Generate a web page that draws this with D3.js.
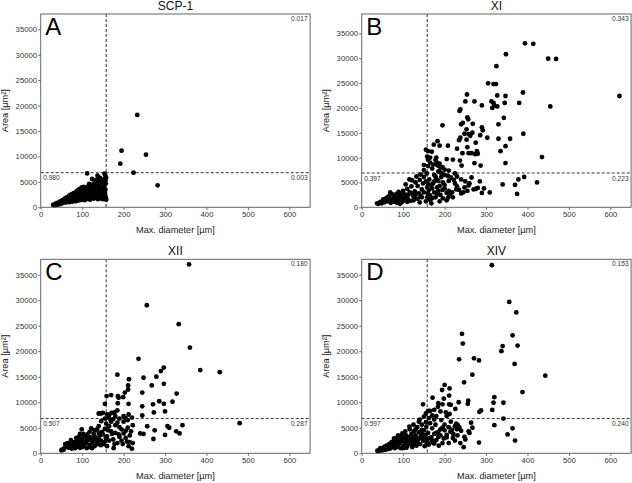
<!DOCTYPE html>
<html><head><meta charset="utf-8">
<script src="https://cdn.jsdelivr.net/npm/d3@7"></script>
<style>body{margin:0;background:#fff}svg{display:block}</style>
</head><body>
<svg id="c" width="632" height="483"></svg>
<script>
// ---------------- DATA ----------------
const panelTitles = ["SCP-1", "XI", "XII", "XIV"];
const panelLetters = ["A", "B", "C", "D"];
const xTicks = [0, 100, 200, 300, 400, 500, 600];
const yTicks = [0, 5000, 10000, 15000, 20000, 25000, 30000, 35000];
const xLabel = "Max. diameter [µm]";
const yLabel = "Area [µm²]";
const xThreshold = [158, 158, 158, 158];
const yThreshold = [6800, 6900, 6800, 6800];
const fracTopRight = ["0.017", "0.343", "0.180", "0.153"];
const fracBottomLeft = ["0.980", "0.397", "0.507", "0.597"];
const fracBottomRight = ["0.003", "0.223", "0.287", "0.240"];
const yMaxes = [38000, 38900, 38000, 38000];

const dataSCP1 = [
[233,18150],[195,11130],[254,10340],[192,8570],[224,6800],[282,4320],
[30,450],[33,350],[35,600],[37,500],[38,800],[40,700],[42,550],[43,900],[45,750],[46,1100],[48,650],[48,950],[50,1200],[51,800],[52,1000],[53,1400],[55,900],[55,1250],[57,1600],[58,1050],[59,1350],[60,1800],[61,950],[62,1500],[63,1200],[64,2000],[65,1100],[66,1700],[67,1350],[68,2200],[69,1000],[70,1550],[70,1900],[71,2400],[72,1250],[73,1750],[74,2100],[75,1400],[75,2600],[76,1100],[77,1900],[78,2300],[79,1600],[80,2800],[80,1250],[81,2050],[82,1450],[83,2500],[84,1800],[85,3000],[85,1200],[86,2200],[87,1600],[88,2700],[88,3200],[89,1950],[90,1350],[90,2400],[91,3400],[92,1700],[93,2900],[94,2100],[95,3600],[95,1400],[96,2500],[97,1800],[98,3100],[99,3900],[100,2200],[100,1500],[101,2700],[102,3400],[103,1900],[104,4000],[105,2400],[106,1400],[106,3000],[107,3600],[108,2100],[109,2700],[110,1600],[110,3300],[112,6650],[112,2400],[113,3900],[114,1800],[115,2900],[116,4300],[117,4580],[117,2200],[118,3500],[119,1500],[120,2600],[121,3100],[122,4000],[123,1900],[124,5560],[124,2900],[125,3600],[126,4500],[127,2300],[128,1700],[129,3300],[130,4100],[130,2700],[131,5000],[132,2000],[133,3700],[134,5400],[135,2500],[136,3100],[137,6220],[137,4400],[138,1600],[139,2800],[140,5170],[140,3600],[141,2100],[142,4600],[143,5800],[144,3000],[145,2400],[146,3900],[147,1700],[148,4900],[149,2800],[150,3400],[151,5500],[152,2000],[153,4200],[154,6610],[155,2600],[156,6200],[156,5300],[156,3500],[156,2220],[157,1800],[157,4700],[158,5800],[158,1500],[155,3000],[150,1600],
[65,1500],[72,1800],[78,2000],[84,2400],[90,2000],[96,2900],[102,2300],[108,3000],[114,2600],[120,3400],[126,2600],[132,3000],[138,3400],[144,2600],[150,2200]
];

const dataXI = [
[394,33000],[414,32900],[348,30800],[450,29900],[469,29850],[325,28400],[305,24950],[318,24800],[324,24800],[389,23100],[327,22500],[347,22400],[622,22400],[254,22700],[250,21300],[272,21300],[313,21300],[318,21000],[345,21000],[380,21000],[290,20500],[320,20500],[327,20300],[455,20300],[315,20000],[238,19700],[236,19400],[255,18100],[343,18000],[257,17700],[244,17000],[268,16800],[240,16700],[330,16700],[195,16500],[290,16100],[253,15700],[292,15500],[267,15000],[248,14800],[258,14700],[390,14800],[286,14500],[262,14400],[238,14000],[303,14000],[330,13800],[358,13800],[235,13500],[253,13600],[183,13300],[275,13000],[174,12600],[188,12400],[208,12400],[347,12300],[255,12100],[230,11800],[155,11600],[278,11300],[335,11300],[169,11200],[160,11300],[243,10900],[258,10900],[265,10900],[280,10800],[274,10700],[435,10100],[165,10000],[180,10000],[205,9700],[220,9600],[237,9400],[181,9000],[347,8900],[272,8900],[182,8500],[241,8400],[287,8400],[150,8500],[185,8400],[190,8000],[160,8300],[170,7800],[200,7600],[210,7400],
[340,4600],[309,3000],[370,4500],[375,2700],[378,5600],[392,6100],[423,5000],[265,6000],[275,3700],[255,3300],[245,3000],[240,2800],[230,4200],[235,3500],[225,4800],[222,5500],[218,3000],[212,2400],[208,1900],[205,2900],[200,3800],[196,5000],[192,6100],[188,4300],[185,3300],[182,2600],[178,2000],[175,6500],[172,4800],[170,3800],[168,800],[165,1500],[163,5600],[160,2800],[158,4000],[157,6800],[180,5800],[190,7000],[200,6500],[215,6000],[230,6200],[250,5200],[260,4800],[240,5600],[210,5300],[200,4500],[195,3500],[220,2000],[205,1400],[188,1200],[170,1800],[165,2400],[175,3000],[185,5300],[155,5200],[150,6100],[148,4800],[145,3600],[142,6600],[140,5500],[138,2800],[135,4300],[132,6200],[130,5000],[128,3200],[125,2200],[122,5400],[120,4200],[118,1300],[116,3000],[115,5600],[112,2500],[110,3700],[108,1800],[106,4600],[104,2600],[102,1400],[100,3300],[98,2100],[97,1000],[95,2800],[93,1600],[92,700],[90,2300],[89,3100],[88,1200],[86,2000],[85,900],[84,2700],[82,1500],[80,2200],[78,1100],[76,1800],[74,2600],[72,1300],[70,900],[69,3000],[67,1700],[65,2200],[62,1200],[60,1900],[57,1400],[55,1000],[52,1600],[48,800],[45,1100],[40,700],[37,800],[100,1800],[105,2000],[112,1600],[120,2800],[128,2000],[135,1700],[142,2300],[150,3000],[158,2000],[162,3500],[168,4500],[175,5200],[182,4000],[190,2500],[196,1800],[210,3300],[228,3600],[248,4000],[258,4400],[270,3600],[280,3900],[295,3800],[285,5200],[290,2900],[95,1300],[110,1100],[125,1400],[140,1000],[155,1200],[130,2600],[145,2000],[160,4700],[178,6200],[195,6700],[208,6300],[225,6800],[185,7200],[150,7500],[160,9600],[165,9000],[172,8600],[178,9500],[158,10200],[188,8800],[195,8100]
];

const dataXII = [
[358,37000],[256,29000],[333,25300],[360,20700],[236,18500],[385,16300],[432,15900],[297,16800],[290,16100],[185,15400],[279,15000],[248,14800],[213,14500],[297,13600],[268,13300],[211,13300],[245,11900],[328,11700],[211,12500],[203,11900],[170,11400],[159,11200],[186,11200],[188,10900],[199,11000],[155,9700],[186,9800],[212,9700],[245,9200],[271,9600],[286,10200],[297,9700],[318,10100],[300,8200],[273,8000],[245,7400],[212,7600],[185,8400],[178,8000],[171,7900],[165,7500],[160,7600],[140,7800],[145,7800],[150,7900],[180,7300],[200,7300],[220,7000],
[480,5900],[342,5500],[306,5300],[310,5000],[327,4300],[335,3900],[300,3600],[272,2800],[275,4500],[257,5300],[248,3800],[240,3900],[222,5500],[218,4300],[215,2200],[220,900],[222,2000],[212,1400],[205,3000],[210,5000],[200,6200],[195,4700],[190,3200],[185,2000],[180,5500],[176,1000],[172,3800],[168,6600],[165,2500],[163,4500],[160,1400],[158,5800],[157,3000],[155,6800],[150,2200],[148,4200],[146,6300],[143,3500],[140,5300],[138,1800],[136,4700],[133,2700],[130,1400],[128,3800],[125,2100],[122,4900],[120,3100],[118,1600],[116,2600],[113,3700],[111,1000],[108,2300],[106,3300],[104,1500],[101,2800],[99,4700],[97,2000],[95,1100],[93,3300],[90,2500],[88,1500],[86,3000],[83,1000],[81,2200],[79,1800],[76,1300],[73,2600],[71,1600],[68,1100],[65,2000],[62,1400],[59,1800],[56,900],[55,700],[52,700],[50,600],[60,1200],[70,2000],[75,900],[85,1200],[92,1800],[98,2600],[103,3800],[110,2000],[115,3000],[120,1200],[125,2600],[130,3300],[135,2200],[140,2800],[145,1600],[150,3700],[155,4800],[160,3300],[165,5300],[170,4300],[175,2700],[180,4000],[185,6000],[190,5100],[195,2500],[200,3900],[205,4400],[210,6500],[215,3500],[170,6200],[162,7000],[175,6700],[190,6800],[205,6900],[140,4000],[130,4500],[118,4200],[112,2600],[105,1900],[100,1200],[95,3800],[88,2200],[124,1000],[135,3000],[145,2500],[153,1800],[158,2500],[178,1800],[188,3700],[198,1800],[208,2300]
];

const dataXIV = [
[314,36850],[356,29650],[373,27600],[242,23400],[244,21500],[364,23100],[340,21000],[376,21100],[337,20000],[369,17500],[271,18600],[283,18200],[235,18400],[267,15400],[443,15200],[388,12000],[247,13900],[200,13400],[212,12700],[194,12400],[211,11300],[320,11000],[234,10000],[257,10300],[256,9700],[171,10900],[148,9600],[318,9900],[342,9900],[315,8500],[284,8100],[288,8400],[342,6800],[211,9600],[195,9600],[185,9800],[215,9500],[160,8300],[165,8300],[175,8500],[184,9100],[190,8200],[198,10700],[203,8000],[212,7700],[226,8700],[205,7300],[180,7300],[170,7400],[155,7800],[150,7200],[140,6600],[138,6200],[162,6900],[175,6600],[192,6500],[215,6200],[228,5800],[232,5500],[236,5000],[264,6000],[267,5000],[320,5500],[352,3700],[364,4900],[370,2500],[283,2100],[246,1200],[231,3500],[240,4400],[248,3200],[250,2700],[238,2000],[225,2500],[221,3800],[218,4600],[214,4200],[210,2000],[205,3600],[200,4500],[198,2900],[195,5000],[190,3500],[186,1500],[185,4200],[180,2600],[178,5600],[175,3800],[172,2100],[170,4900],[168,3100],[165,5900],[162,1700],[160,4000],[158,2800],[156,5200],[154,3600],[152,1400],[150,4500],[148,2500],[145,5600],[143,3300],[141,1800],[138,4100],[136,2700],[134,5100],[132,1500],[130,3500],[128,2200],[126,4300],[124,3000],[122,1200],[120,3800],[118,2500],[116,4700],[114,1800],[112,3200],[110,2400],[108,1100],[106,3600],[104,2100],[102,2900],[100,1500],[98,3900],[96,2400],[94,1000],[92,3100],[90,1900],[88,2600],[86,1300],[84,3000],[82,2000],[80,1000],[78,2500],[76,1600],[74,1200],[72,2200],[70,1400],[68,900],[66,1800],[64,1200],[62,800],[60,1500],[58,1100],[56,700],[54,1000],[52,800],[50,600],[48,900],[46,700],[44,500],[42,600],[40,400],[38,500],[45,1000],[55,1300],[65,1000],[75,2000],[85,2200],[95,2800],[105,2600],[115,3000],[125,1800],[135,2000],[145,3900],[155,2300],[165,3000],[175,1900],[185,3200],[195,2000],[100,1000],[110,1500],[120,2000],[130,2700],[140,3000],[150,3200],[160,2000],[170,2500],[180,4000],[190,4700],[200,5600],[210,5100],[220,3000],[260,4000],[258,4300],[230,4700],[225,5300],[205,3100],[155,6100],[145,4600],[130,4700],[125,5600],[115,5200],[105,4300],[95,3300],[88,3500],[78,2900]
];
const panelData = [dataSCP1, dataXI, dataXII, dataXIV];

// ---------------- LAYOUT ----------------
const FONT = "'Liberation Sans', Arial, Helvetica, sans-serif";
const frames = [
  {left: 40.7, top: 14, bottom: 207.3},
  {left: 361.7, top: 14, bottom: 207.3},
  {left: 40.7, top: 259.3, bottom: 453.3},
  {left: 361.7, top: 259.3, bottom: 453.3}
];
const plotW = 269.4;

const svg = d3.select("#c");
svg.append("rect").attr("width", 632).attr("height", 483).attr("fill", "#fff");

frames.forEach((f, i) => {
  const L = f.left, R = f.left + plotW, T = f.top, B = f.bottom;
  const x = d3.scaleLinear().domain([0, 650]).range([L, R]);
  const y = d3.scaleLinear().domain([0, yMaxes[i]]).range([B, T]);
  const g = svg.append("g");

  // axes
  const xa = g.append("g").attr("transform", `translate(0,${B})`)
    .call(d3.axisBottom(x).tickValues(xTicks).tickSize(2.5).tickPadding(1.5).tickFormat(d3.format("d")));
  const ya = g.append("g").attr("transform", `translate(${L},0)`)
    .call(d3.axisLeft(y).tickValues(yTicks).tickSize(2.5).tickPadding(1.2).tickFormat(d3.format("d")));
  [xa, ya].forEach(a => {
    a.select(".domain").remove();
    a.selectAll("line").attr("stroke", "#666");
    a.selectAll("text").attr("fill", "#333").style("font-family", FONT).style("font-size", "7.7px");
  });

  // threshold lines
  g.append("line").attr("x1", x(xThreshold[i])).attr("x2", x(xThreshold[i]))
    .attr("y1", T).attr("y2", B).attr("stroke", "#333").attr("stroke-width", 1).attr("stroke-dasharray", "3,2");
  g.append("line").attr("x1", L).attr("x2", R)
    .attr("y1", y(yThreshold[i])).attr("y2", y(yThreshold[i])).attr("stroke", "#333").attr("stroke-width", 1).attr("stroke-dasharray", "3,2");

  // points
  g.append("g").selectAll("circle").data(panelData[i]).join("circle")
    .attr("cx", d => x(d[0])).attr("cy", d => y(d[1])).attr("r", 2.4).attr("fill", "#000");

  // frame
  g.append("rect").attr("x", L).attr("y", T).attr("width", R - L).attr("height", B - T)
    .attr("fill", "none").attr("stroke", "#666").attr("stroke-width", 1);

  // title
  g.append("text").attr("x", (L + R) / 2).attr("y", T - 4).attr("text-anchor", "middle")
    .style("font-family", FONT).style("font-size", "12px").attr("fill", "#111").text(panelTitles[i]);
  // letter
  g.append("text").attr("x", L + 4.5).attr("y", T + 21).style("font-family", FONT)
    .style("font-size", "24px").attr("fill", "#000").text(panelLetters[i]);
  // fractions
  const fs = "6.6px";
  g.append("text").attr("x", R - 2.5).attr("y", T + 7).attr("text-anchor", "end")
    .style("font-family", FONT).style("font-size", fs).attr("fill", "#333").text(fracTopRight[i]);
  g.append("text").attr("x", L + 2.5).attr("y", y(yThreshold[i]) + 7.5)
    .style("font-family", FONT).style("font-size", fs).attr("fill", "#333").text(fracBottomLeft[i]);
  g.append("text").attr("x", R - 2.5).attr("y", y(yThreshold[i]) + 7.5).attr("text-anchor", "end")
    .style("font-family", FONT).style("font-size", fs).attr("fill", "#333").text(fracBottomRight[i]);

  // axis titles
  g.append("text").attr("x", (L + R) / 2).attr("y", B + 26).attr("text-anchor", "middle")
    .style("font-family", FONT).style("font-size", "9.2px").attr("fill", "#222").text(xLabel);
  g.append("text").attr("transform", `translate(${L - 32.5},${(T + B) / 2}) rotate(-90)`)
    .attr("text-anchor", "middle").style("font-family", FONT).style("font-size", "9.2px")
    .attr("fill", "#222").text(yLabel);
});
</script>
</body></html>
